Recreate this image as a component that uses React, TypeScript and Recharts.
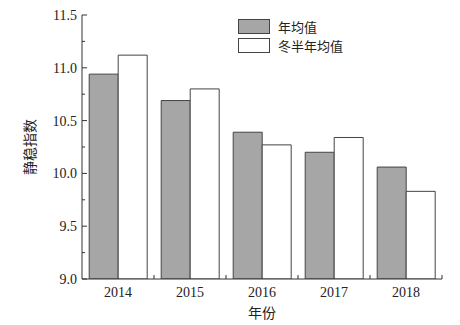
import { BarChart, Bar, XAxis, YAxis, Legend } from "recharts";

const years = ["2014", "2015", "2016", "2017", "2018"];
const annualMean = [10.94, 10.69, 10.39, 10.2, 10.06];
const winterMean = [11.12, 10.8, 10.27, 10.34, 9.83];
const yTicks = [9, 9.25, 9.5, 9.75, 10, 10.25, 10.5, 10.75, 11, 11.25, 11.5];

const data = years.map((year, i) => ({
  year,
  annual: annualMean[i],
  winter: winterMean[i],
}));

const serif = "'Liberation Serif', 'Times New Roman', serif";
const cjk = "'Noto Sans CJK SC', sans-serif";
const axisColor = "#333";

function YTick(props: any) {
  const { x, y, payload } = props;
  const major = Math.abs(payload.value * 2 - Math.round(payload.value * 2)) < 1e-6;
  return (
    <g>
      <line x1={x} x2={x + (major ? 5 : 3)} y1={y} y2={y} stroke={axisColor} />
      {major && (
        <text x={x - 5} y={y + 5} textAnchor="end" fontFamily={serif} fontSize={14} fill="#222">
          {payload.value.toFixed(1)}
        </text>
      )}
    </g>
  );
}

function XTick(props: any) {
  const { x, y, payload } = props;
  const half = payload.offset ?? 36;
  return (
    <g>
      <line x1={x + half} x2={x + half} y1={y} y2={y - 4} stroke={axisColor} />
      <text x={x} y={y + 18} textAnchor="middle" fontFamily={serif} fontSize={14} fill="#222">
        {payload.value}
      </text>
    </g>
  );
}

function LegendBox(props: any) {
  const { payload } = props;
  return (
    <div>
      {(payload || []).map((p: any, i: number) => (
        <div key={i} style={{ display: "flex", alignItems: "center", height: 19 }}>
          <div
            style={{
              width: 30,
              height: 13,
              background: p.color,
              border: "1px solid #444",
              marginRight: 8,
            }}
          />
          <span style={{ fontFamily: cjk, fontSize: 13, color: "#222", lineHeight: "13px" }}>
            {p.value}
          </span>
        </div>
      ))}
    </div>
  );
}

export default function App() {
  return (
    <div style={{ position: "absolute", left: 0, top: 0, width: 460, height: 325, background: "#fff" }}>
      <BarChart
        width={460}
        height={325}
        data={data}
        margin={{ top: 15, right: 18, left: 0, bottom: 0 }}
        barCategoryGap="10%"
        barGap={0}
      >
        <XAxis
          dataKey="year"
          height={46}
          tickSize={0}
          tickMargin={0}
          tickLine={false}
          axisLine={{ stroke: axisColor }}
          tick={<XTick />}
          interval={0}
          label={{ value: "年份", position: "insideBottom", offset: 7, fontFamily: cjk, fontSize: 14, fill: "#222" }}
        />
        <YAxis
          width={82}
          domain={[9, 11.5]}
          ticks={yTicks}
          interval={0}
          allowDataOverflow
          tickSize={0}
          tickMargin={0}
          tickLine={false}
          axisLine={{ stroke: axisColor }}
          tick={<YTick />}
          label={{
            value: "静稳指数",
            angle: -90,
            position: "insideLeft",
            offset: 30,
            fontFamily: cjk,
            fontSize: 14,
            fill: "#222",
            style: { textAnchor: "middle" },
          }}
        />
        <Legend
          layout="horizontal"
          verticalAlign="middle"
          align="center"
          itemSorter="dataKey"
          wrapperStyle={{ top: 17, left: 238, width: 140 }}
          content={<LegendBox />}
        />
        <Bar dataKey="annual" name="年均值" fill="#a6a6a6" stroke="#444" strokeWidth={1} isAnimationActive={false} />
        <Bar dataKey="winter" name="冬半年均值" fill="#fff" stroke="#444" strokeWidth={1} isAnimationActive={false} />
      </BarChart>
    </div>
  );
}
